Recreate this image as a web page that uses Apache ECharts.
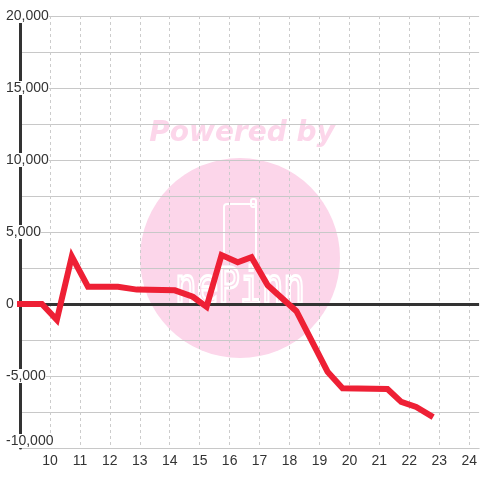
<!DOCTYPE html>
<html>
<head>
<meta charset="utf-8">
<script src="https://cdn.jsdelivr.net/npm/echarts@6/dist/echarts.min.js"></script>
<style>
  html, body { margin: 0; padding: 0; background: #fff; }
  #chart { width: 480px; height: 480px; }
</style>
</head>
<body>
<div id="chart"></div>
<script>
const xValues = [9, 9.73, 10.23, 10.73, 11.27, 12.27, 12.9, 14.17, 14.77, 15.23, 15.73, 16.27, 16.73, 17.27, 18.23, 19.27, 19.77, 21.27, 21.73, 22.23, 22.71];
const yValues = [0, 0, -1100, 3300, 1200, 1200, 1000, 950, 500, -200, 3400, 2900, 3250, 1300, -500, -4700, -5850, -5900, -6800, -7150, -7750];
const yTicks = [-10000, -5000, 0, 5000, 10000, 15000, 20000];
const xTicks = [10, 11, 12, 13, 14, 15, 16, 17, 18, 19, 20, 21, 22, 23, 24];

const FONT = '"Liberation Sans", Arial, sans-serif';
const LINE_RED = '#ee2035';
const WATERMARK_PINK = '#fcd6ea';

const chart = echarts.init(document.getElementById('chart'), null, { renderer: 'canvas' });

const yRange = { min: -10000, max: 20000, interval: 2500 };
const xRange = { min: 9, max: 24.33, interval: 1 };

function formatY(value) {
  return yTicks.includes(value) ? value.toLocaleString('en-US') : '';
}

function formatX(value) {
  return xTicks.includes(value) ? String(value) : '';
}

const option = {
  animation: false,
  backgroundColor: '#fff',
  grid: { left: 20, right: 0, top: 16, bottom: 32, containLabel: false },
  graphic: [
    {
      type: 'circle',
      z: -1,
      shape: { cx: 240, cy: 258, r: 100 },
      style: { fill: WATERMARK_PINK },
      silent: true,
    },
    {
      type: 'text',
      z: -1,
      x: 242,
      y: 134,
      style: {
        text: 'Powered by',
        font: 'italic bold 28px "DejaVu Sans"',
        fill: WATERMARK_PINK,
        align: 'center',
        verticalAlign: 'middle',
      },
      silent: true,
    },
    {
      type: 'rect',
      z: -1,
      shape: { x: 224, y: 204, width: 32, height: 56, r: 3 },
      style: { fill: 'none', stroke: '#fff', lineWidth: 2 },
      silent: true,
    },
    {
      type: 'rect',
      z: -1,
      shape: { x: 251, y: 199, width: 5, height: 8, r: 2 },
      style: { fill: 'none', stroke: '#fff', lineWidth: 2 },
      silent: true,
    },
    {
      type: 'text',
      z: -1,
      x: 240,
      y: 290,
      scaleY: 1.4,
      style: {
        text: 'nePinn',
        font: '36px "DejaVu Sans Mono"',
        fill: 'none',
        stroke: '#fff',
        lineWidth: 2,
        align: 'center',
        verticalAlign: 'middle',
      },
      silent: true,
    },
  ],
  xAxis: {
    type: 'value',
    ...xRange,
    axisLine: { show: true, onZero: false, lineStyle: { color: '#c8c8c8', width: 1 } },
    axisTick: { show: false },
    axisLabel: {
      formatter: formatX,
      color: '#333',
      fontFamily: FONT,
      fontSize: 14,
      margin: 6,
      showMaxLabel: false,
    },
    splitLine: {
      show: true,
      showMaxLine: false,
      lineStyle: { color: '#cccccc', type: [3, 3], width: 1 },
    },
  },
  yAxis: [
    {
      type: 'value',
      ...yRange,
      axisLine: { show: false },
      axisTick: { show: false },
      axisLabel: { show: false },
      splitLine: { show: true, lineStyle: { color: '#c8c8c8', width: 1 } },
    },
    {
      type: 'value',
      ...yRange,
      position: 'left',
      z: 3,
      axisLine: { show: true, onZero: false, lineStyle: { color: '#333', width: 3 } },
      axisTick: { show: false },
      splitLine: { show: false },
      axisLabel: {
        formatter: formatY,
        color: '#333',
        fontFamily: FONT,
        fontSize: 14,
        lineHeight: 14,
        align: 'left',
        margin: 14,
        backgroundColor: '#fff',
        verticalAlignMinLabel: 'bottom',
      },
    },
  ],
  series: [
    {
      type: 'line',
      z: 10,
      yAxisIndex: 0,
      data: xValues.map((x, i) => [x, yValues[i]]),
      showSymbol: false,
      clip: false,
      lineStyle: { color: LINE_RED, width: 6, join: 'miter', cap: 'square' },
      markLine: {
        silent: true,
        symbol: 'none',
        label: { show: false },
        lineStyle: { color: '#333', width: 3, type: 'solid' },
        data: [{ yAxis: 0 }],
      },
    },
  ],
};

chart.setOption(option);
</script>
</body>
</html>
